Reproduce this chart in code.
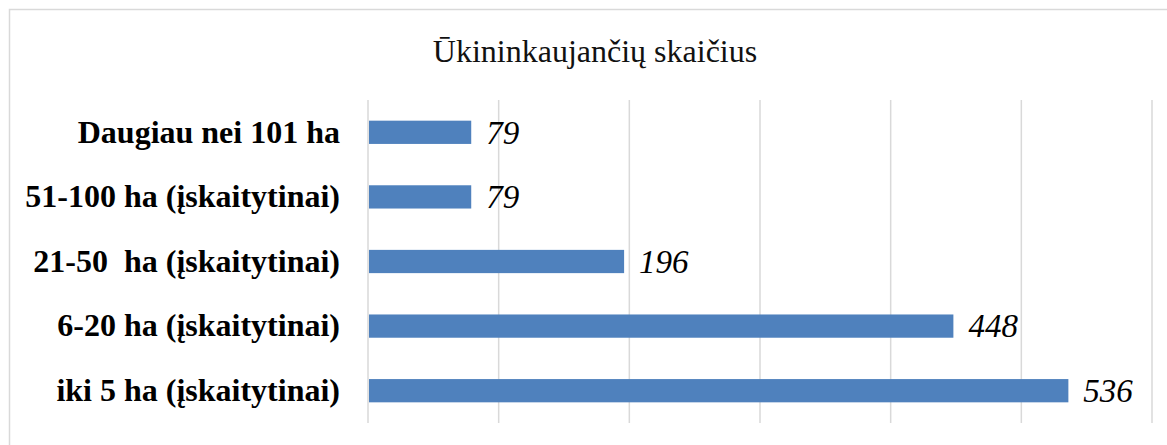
<!DOCTYPE html>
<html lang="lt">
  <head>
    <meta charset="UTF-8" />
    <title>Ūkininkaujančių skaičius</title>
    <style>
      body {
        margin: 0;
        background: #fff;
      }
    </style>
  </head>
  <body>
    <script src="https://cdn.jsdelivr.net/npm/d3@7"></script>
    <script>
      const width = 1167;
      const height = 445;

      const categories = [
        "Daugiau nei 101 ha",
        "51-100 ha (įskaitytinai)",
        "21-50  ha (įskaitytinai)",
        "6-20 ha (įskaitytinai)",
        "iki 5 ha (įskaitytinai)",
      ];
      const values = [79, 79, 196, 448, 536];
      const gridTicks = [0, 100, 200, 300, 400, 500, 600];
      const title = "Ūkininkaujančių skaičius";

      const serif = "'Liberation Serif', 'Times New Roman', serif";
      const margin = { top: 100, left: 368, right: 15, bottom: 22 };

      const svg = d3
        .select("body")
        .append("svg")
        .attr("width", width)
        .attr("height", height);

      // chart frame (runs off the right/bottom edge like the original)
      svg
        .append("rect")
        .attr("x", 9.5)
        .attr("y", 9.5)
        .attr("width", width + 20)
        .attr("height", height + 20)
        .attr("fill", "#fff")
        .attr("stroke", "#d9d9d9")
        .attr("stroke-width", 1.5);

      const x = d3
        .scaleLinear()
        .domain([0, 600])
        .range([margin.left, width - margin.right]);

      const y = d3
        .scaleBand()
        .domain(categories)
        .range([margin.top, height - margin.bottom])
        .paddingInner(0.64)
        .paddingOuter(0.32);

      svg
        .append("text")
        .attr("x", 595)
        .attr("y", 62)
        .attr("text-anchor", "middle")
        .attr("font-family", serif)
        .attr("font-size", 32)
        .attr("fill", "#111")
        .text(title);

      // vertical gridlines
      svg
        .append("g")
        .selectAll("line")
        .data(gridTicks)
        .join("line")
        .attr("x1", (d) => x(d))
        .attr("x2", (d) => x(d))
        .attr("y1", margin.top)
        .attr("y2", height - margin.bottom)
        .attr("stroke", "#d9d9d9")
        .attr("stroke-width", 1.5);

      svg
        .append("g")
        .selectAll("rect")
        .data(values)
        .join("rect")
        .attr("x", x(0) + 1)
        .attr("y", (d, i) => y(categories[i]))
        .attr("width", (d) => x(d) - x(0) - 1)
        .attr("height", y.bandwidth())
        .attr("fill", "#4f81bd");

      // category labels
      svg
        .append("g")
        .selectAll("text")
        .data(categories)
        .join("text")
        .attr("x", 340)
        .attr("y", (d) => y(d) + y.bandwidth() / 2)
        .attr("dy", "0.32em")
        .attr("text-anchor", "end")
        .attr("font-family", serif)
        .attr("font-weight", "bold")
        .attr("font-size", 32)
        .attr("fill", "#000")
        .style("white-space", "pre")
        .text((d) => d);

      // value labels
      svg
        .append("g")
        .selectAll("text")
        .data(values)
        .join("text")
        .attr("x", (d) => x(d) + 15)
        .attr("y", (d, i) => y(categories[i]) + y.bandwidth() / 2)
        .attr("dy", "0.34em")
        .attr("font-family", serif)
        .attr("font-style", "italic")
        .attr("font-size", 33)
        .attr("fill", "#000")
        .text((d) => d);
    </script>
  </body>
</html>
